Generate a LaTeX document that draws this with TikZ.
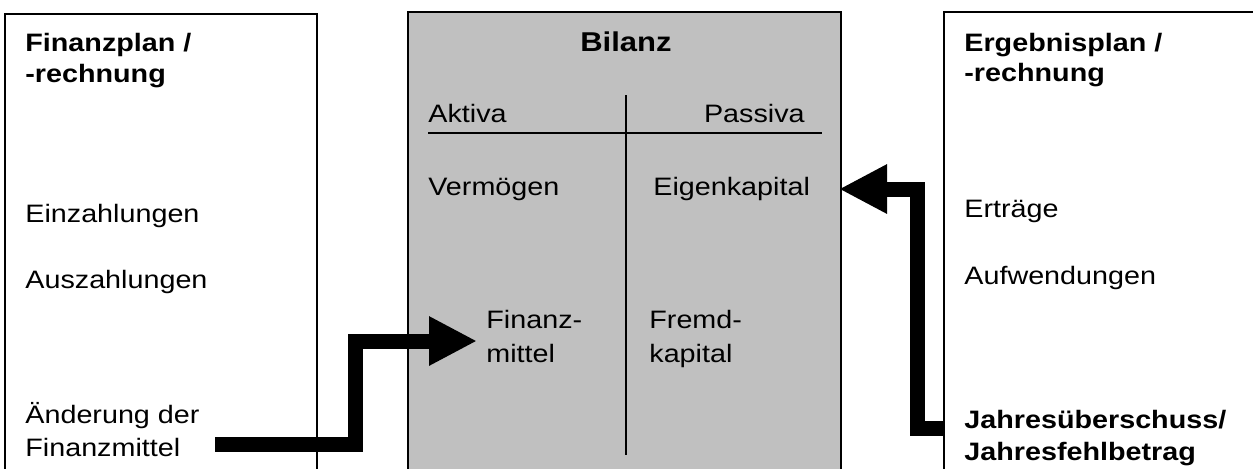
\documentclass[tikz,border=0pt]{standalone}
\usepackage{fontspec}
\setmainfont{Liberation Sans}[FakeStretch = 1.14]
\usetikzlibrary{arrows.meta}
\definecolor{bilanzgrau}{RGB}{192,192,192}

\begin{document}
\begin{tikzpicture}[x = 0.5pt, y = -0.5pt, font = \fontsize{12.6}{15}\selectfont,
	txt/.style = {anchor = base west, inner sep = 0pt},
	head/.style = {txt, font = \fontsize{12.6}{15}\selectfont\bfseries},
	frame/.style = {line width = 0.8pt},
	flow/.style = {line width = 7.5pt, -{Triangle[length = 24pt, width = 23pt]}}]

	% Page (pixel units, y downwards)
	
	\useasboundingbox (0, 0) rectangle (1253, 468);
	
	% Draw boxes
	
	\draw [frame] (5, 480) -- (5, 14) -- (317, 14) -- (317, 480);
	\filldraw [frame, fill = bilanzgrau] (408, 480) -- (408, 12) -- (841, 12) -- (841, 480);
	\draw [frame] (944, 480) -- (944, 12) -- (1270, 12);
	
	% Bilanz cross
	
	\draw [line width = 0.6pt] (626, 95) -- (626, 455);
	\draw [line width = 0.6pt] (428, 133) -- (822, 133);
	
	% Headings
	
	\foreach \name/\x/\y/\t in {fplan/25/51/{Finanzplan /}, frech/25/82/-rechnung,
		eplan/964/51/{Ergebnisplan /}, erech/964/81/-rechnung,
		jue/964/428/{Jahresüberschuss/}, jfb/964/460/Jahresfehlbetrag}
		\node [head] (\name) at (\x, \y) {\t};
	
	\node [head, anchor = base, font = \fontsize{13.6}{16}\selectfont\bfseries] (bilanz) at (626, 51) {Bilanz};
	
	% Items
	
	\foreach \name/\x/\y/\t in {einz/25/222/Einzahlungen, ausz/25/288/Auszahlungen,
		aend/25/423/Änderung der, fmit/25/456/Finanzmittel,
		aktiva/428/122/Aktiva, verm/428/195/Vermögen, ek/653/195/Eigenkapital,
		finanz/486/328/Finanz-, mittel/486/362/mittel,
		fremd/649/328/Fremd-, fk/649/362/kapital,
		ertr/964/217/Erträge, aufw/964/284/Aufwendungen}
		\node [txt] (\name) at (\x, \y) {\t};
	
	\node [txt, anchor = base east] (passiva) at (805, 122) {Passiva};
	
	% Draw flows
	
	\coordinate (fm-out) at (215, 444);
	\coordinate (fm-in) at (477, 341);
	\draw [flow] (fm-out) -| (355.5, 341) -- (fm-in);
	
	\coordinate (jue-out) at (944, 428);
	\coordinate (ek-in) at (839, 189);
	\draw [flow] (jue-out) -| (917.5, 189) -- (ek-in);
	
\end{tikzpicture}
\end{document}
